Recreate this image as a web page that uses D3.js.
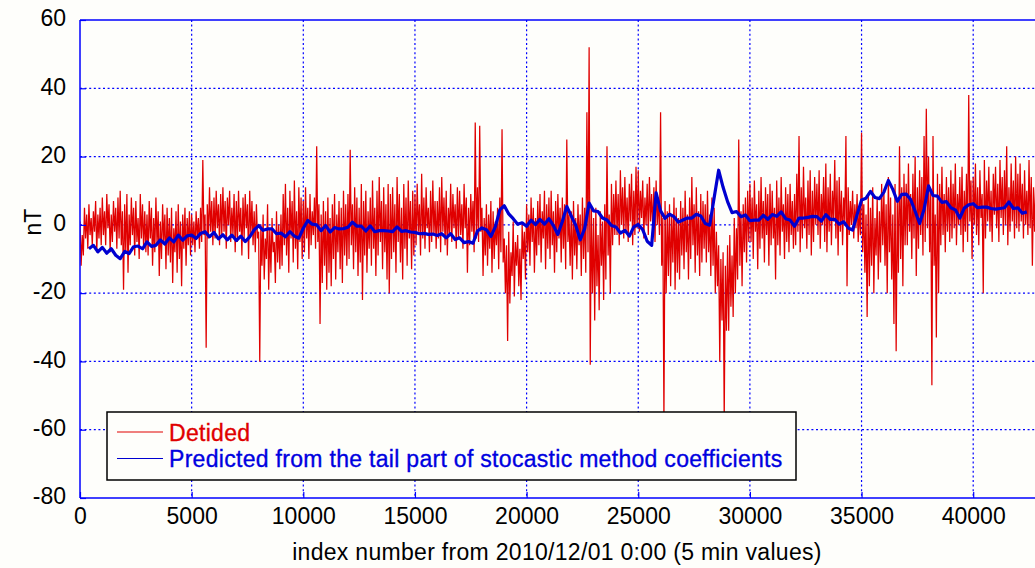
<!DOCTYPE html>
<html>
<head>
<meta charset="utf-8">
<script src="https://cdn.jsdelivr.net/npm/d3@7"></script>
<style>
  html, body { margin: 0; padding: 0; background: #fefefb; }
  svg { display: block; }
  text { font-family: "Liberation Sans", Arial, sans-serif; }
</style>
</head>
<body>
<svg id="chart" width="1035" height="568"></svg>
<script>
// Detided series, read per 100-sample bin: highest and lowest value in each bin
const redStep = 100;
const redHigh = [
  1, -3, 5, 3, 6, 2, 4, 7, 3, 5,
  8, 4, 9, 6, 3, 7, 5, 8, 10, 4,
  6, 9, 3, 8, 5, 7, 2, 9, 6, 4,
  3, 7, 5, 2, 8, 4, 1, 6, 3, 5,
  2, 5, -1, 4, 6, 1, 3, 5, 2, 4,
  3, 1, 4, 2, 5, 19, 3, 6, 11, 7,
  8, 10, 6, 9, 11, 7, 8, 10, 5, 9,
  7, 10, 5, 8, 9, 6, 10, 7, 4, 6,
  -2, 0, 3, -4, 6, -1, 2, -5, 4, 0,
  3, 9, 12, 5, 10, 7, 13, 4, 11, 8,
  7, 11, 5, 9, 4, 8, 23, 6, 3, 7,
  4, 8, 2, 6, 9, 3, 7, 5, 10, 6,
  9, 22, 6, 11, 8, 5, 12, 7, 10, 4,
  8, 13, 5, 10, 14, 7, 11, 6, 12, 9,
  11, 6, 14, 9, 5, 12, 8, 13, 7, 10,
  9, 12, 6, 15, 8, 11, 5, 10, 13, 7,
  7, 11, 14, 8, 10, 5, 12, 9, 6, 11,
  10, 6, 12, 8, 5, 9, 7, 30, 11, 29,
  5, 2, 6, 3, 7, 4, 1, 5, 8, 28,
  -4, -6, -2, -8, 1, -5, -3, -7, 0, -2,
  6, 3, 8, 5, 2, 7, 9, 4, 10, 6,
  8, 10, 4, 7, 9, 5, 8, 6, 25, 3,
  4, 7, 2, 6, 3, 8, 5, 33, 52, 5,
  2, 5, -3, 4, 1, 6, 23, 3, 12, 9,
  13, 9, 16, 11, 14, 8, 12, 15, 10, 17,
  16, 10, 13, 8, 12, 14, 9, 11, 13, 8,
  33, 2, 7, 4, 6, 3, 8, 5, 2, 7,
  5, 10, 3, 8, 14, 6, 11, 4, 9, 7,
  6, 10, 3, 8, 5, -2, -6, -10, -8, -12,
  -6, -3, -9, 2, -1, 25, 4, 6, 8, 10,
  12, 8, 13, 6, 10, 14, 7, 11, 9, 12,
  10, 5, 13, 8, 14, 6, 11, 9, 12, 7,
  9, 15, 26, 11, 17, 8, 13, 16, 10, 14,
  12, 16, 9, 14, 18, 11, 15, 10, 19, 13,
  14, 10, 8, 26, 11, 7, 10, 6, 9, 5,
  27, 6, 3, 9, 5, 11, 2, 8, 4, 12,
  10, 6, 14, 8, 3, 12, 7, 23, 11, 15,
  12, 18, 9, 15, 20, 11, 16, 14, 26, 34,
  20, 10, 26, 3, 15, 12, 17, 9, 14, 11,
  16, 12, 18, 9, 14, 17, 10, 15, 38, 13,
  14, 18, 11, 16, 9, 19, 13, 17, 10, 15,
  17, 12, 19, 14, 16, 23, 11, 18, 13, 20,
  15, 18, 12, 16, 10, 19, 14, 11, 13, 12
];
const redLow = [
  -12, -9, -4, -7, -3, -6, -2, -8, -4, -6,
  -3, -6, -1, -8, -5, -2, -7, -4, -6, -19,
  -8, -14, -6, -3, -9, -5, -10, -4, -7, -8,
  -9, -4, -12, -8, -6, -15, -10, -5, -13, -9,
  -11, -17, -8, -14, -10, -18, -7, -12, -6, -9,
  -6, -8, -4, -7, -5, -3, -36, -4, -2, -6,
  -4, -1, -6, -3, -2, -7, 0, -5, -3, -8,
  -5, -2, -9, -4, -1, -10, -3, -6, -8, -4,
  -40, -12, -16, -10, -19, -14, -8, -17, -11, -13,
  -12, -6, -9, -14, -4, -11, -7, -13, -5, -10,
  -8, -4, -10, -6, -3, -7, -5, -29, -17, -12,
  -19, -14, -18, -10, -16, -8, -13, -17, -9, -12,
  -10, -6, -13, -8, -15, -11, -22, -9, -14, -7,
  -12, -7, -15, -9, -5, -13, -8, -16, -20, -10,
  -8, -14, -5, -11, -16, -7, -12, -4, -13, -9,
  -6, -2, -9, -4, -7, -1, -8, -5, -3, -7,
  -4, -8, -2, -6, -9, -3, -5, -1, -7, -4,
  -3, -7, -1, -14, -6, -2, -8, -4, -5, -2,
  -15, -9, -12, -7, -14, -10, -6, -13, -8, -11,
  -20, -34, -23, -15, -21, -12, -18, -22, -10, -16,
  -8, -12, -5, -14, -9, -6, -11, -4, -13, -7,
  -10, -6, -14, -8, -4, -11, -7, -13, -5, -12,
  -16, -9, -13, -6, -15, -10, -14, -8, -41, -20,
  -28, -18, -25, -12, -22, -16, -9, -20, -6, -3,
  -3, -6, 0, -4, -2, -5, 1, -6, -3, -1,
  -2, 2, -4, 0, -3, 1, -1, -5, 0, -3,
  -12, -57, -20, -15, -18, -11, -19, -14, -16, -9,
  -13, -8, -16, -10, -6, -14, -9, -15, -11, -7,
  -11, -8, -15, -12, -20, -18, -40, -28, -57, -31,
  -31, -24, -27, -20, -16, -12, -18, -8, -11, -5,
  -5, -10, -2, -13, -7, -4, -11, -3, -12, -6,
  -4, -16, -6, -9, -2, -10, -5, -8, -3, -7,
  -6, -2, -8, -4, -1, -7, -3, -9, -5, 0,
  -3, -7, 0, -5, -8, -2, -6, 1, -4, -9,
  -2, -6, 1, -18, -3, 0, -4, -1, -5, -3,
  -8, -14, -27, -18, -12, -20, -9, -16, -11, -6,
  -12, -20, -8, -16, -29, -37, -14, -10, -18, -6,
  -6, -2, -10, -4, -15, -7, -3, -9, -5, -1,
  -8, -47, -12, -33, -20, -6, -3, -8, -2, -5,
  -4, -1, -6, 0, -3, -8, -2, -5, 1, -10,
  0, -3, -6, 2, -20, -4, 1, -2, -5, 3,
  -1, -5, 2, -3, 0, -6, -2, 1, -4, -1,
  -2, 1, -4, 0, -3, -1, -12, -2, 0, -3
];

// Predicted series: one value every 200 samples, starting at index 400
const blueStart = 400;
const blueStep = 200;
const blueValues = [
  -7, -6.0, -7.9, -6.6, -8.3, -7.0, -8.9, -9.9, -7.8, -8.4,
  -6.4, -6.2, -7.0, -5.0, -6.3, -6.0, -4.4, -5.6, -3.8, -5.0,
  -3.0, -4.5, -3.2, -3.0, -4.0, -2.5, -2.0, -3.5, -2.2, -4.1,
  -2.9, -4.4, -3.0, -4.6, -3.3, -4.9, -3.5, -1.5, -0.2, -1.6,
  -1.2, -1.2, -2.6, -2.4, -3.5, -2.0, -3.3, -3.9, -1.0, 1.3,
  0.2, 0.0, -1.7, -0.2, -2.1, -0.8, -1.2, -1.1, -0.7, 0.8,
  -0.4, -0.4, -1.8, -0.3, -2.0, -1.7, -1.7, -1.8, -2.0, -0.6,
  -1.9, -1.7, -2.1, -2.2, -2.6, -2.5, -2.8, -2.7, -3.1, -2.6,
  -3.8, -2.6, -4.3, -3.8, -5.2, -4.9, -5.4, -1.8, -0.9, -1.4,
  -3.4, -0.6, 4.4, 5.6, 3.2, 1.8, 0.2, 0.6, -0.4, 1.4,
  0.1, 1.6, 0.2, 1.8, -0.2, -2.8, 1.0, 5.4, 2.6, -0.1,
  -4.4, -1.1, 6.4, 4.1, 3.9, 2.0, 1.4, -0.2, -0.6, -2.4,
  -1.6, -3.3, -0.6, 0.1, -1.4, -4.8, -6.0, 9.4, 4.1, 1.9,
  3.1, 2.4, 0.8, 1.4, 2.0, 2.0, 3.1, 2.6, 0.4, -0.1,
  8, 16, 11, 6.8, 3.6, 3.9, 2.4, 2.9, 1.2, 1.4,
  1.4, 2.8, 1.6, 3.0, 2.5, 3.8, 1.8, 1.4, -0.4, 2.0,
  2.0, 2.2, 2.5, 2.4, 1.1, 3.0, 1.6, 1.6, 0.2, 0.9,
  -0.9, -1.5, 3.0, 7.3, 7.8, 9.8, 8.0, 7.7, 9.6, 13.0,
  10.4, 6.9, 8.9, 9.0, 7.4, 4.0, 0.4, 4.6, 11.4, 8.6,
  8.4, 6.6, 6.8, 5.0, 4.4, 2.0, 4.9, 5.9, 6.2, 5.0,
  5.2, 5.2, 4.8, 4.6, 4.8, 5.0, 6.7, 4.8, 5.0, 3.4,
  3.8
];

const xTicks = [0, 5000, 10000, 15000, 20000, 25000, 30000, 35000, 40000];
const yTicks = [-80, -60, -40, -20, 0, 20, 40, 60];

const seriesNames = ['Detided', 'Predicted from the tail part of stocastic method coefficients'];
const seriesColors = ['#e00000', '#0000d0'];
const textColors = ['#e00000', '#0000e0'];

const xLabel = 'index number from 2010/12/01 0:00 (5 min values)';
const yLabel = 'nT';

// each bin is drawn as its high then its low
const redData = redHigh.flatMap((hi, i) => [
  { idx: i * redStep, value: hi },
  { idx: i * redStep + redStep / 2, value: redLow[i] }
]);
const blueData = blueValues.map((v, i) => ({ idx: blueStart + i * blueStep, value: v }));

const svg = d3.select('#chart');
const W = 1035, H = 568;
const mLeft = 80, mTop = 20, mBottom = 498;

// the plot runs off the right edge of the picture
const x = d3.scaleLinear().domain([0, 45000]).range([mLeft, mLeft + 45 * 22.33]);
const y = d3.scaleLinear().domain([-80, 60]).range([mBottom, mTop]);

const axisColor = '#0000ff';
const fontSize = '23px';

svg.append('clipPath').attr('id', 'plot-clip')
  .append('rect')
  .attr('x', mLeft).attr('y', mTop)
  .attr('width', W - mLeft).attr('height', mBottom - mTop);

// grid
const grid = svg.append('g').attr('class', 'grid');
grid.selectAll('line.gx').data(xTicks.filter(d => d > 0)).enter().append('line')
  .attr('x1', d => x(d)).attr('x2', d => x(d))
  .attr('y1', mTop).attr('y2', mBottom)
  .attr('stroke', axisColor).attr('stroke-width', 1.2)
  .attr('stroke-dasharray', '2,2.6');
grid.selectAll('line.gy').data(yTicks.filter(d => d > -80 && d < 60)).enter().append('line')
  .attr('x1', mLeft).attr('x2', W)
  .attr('y1', d => y(d)).attr('y2', d => y(d))
  .attr('stroke', axisColor).attr('stroke-width', 1.2)
  .attr('stroke-dasharray', '2,2.6');

// lines
const line = d3.line().x(d => x(d.idx)).y(d => y(d.value));
const plot = svg.append('g').attr('clip-path', 'url(#plot-clip)');
plot.append('path').datum(redData)
  .attr('d', line).attr('fill', 'none')
  .attr('stroke', seriesColors[0]).attr('stroke-width', 1.25)
  .attr('stroke-linejoin', 'bevel');
plot.append('path').datum(blueData)
  .attr('d', line).attr('fill', 'none')
  .attr('stroke', seriesColors[1]).attr('stroke-width', 3.2)
  .attr('stroke-linejoin', 'round');

// axes
const xAxis = svg.append('g')
  .attr('transform', 'translate(0,' + mBottom + ')')
  .call(d3.axisBottom(x).tickValues(xTicks).tickSize(-6).tickPadding(10).tickFormat(d => String(d)));
const yAxis = svg.append('g')
  .attr('transform', 'translate(' + mLeft + ',0)')
  .call(d3.axisLeft(y).tickValues(yTicks).tickSize(-6).tickPadding(14).tickFormat(d => String(d)));
[xAxis, yAxis].forEach(a => {
  a.select('.domain').remove();
  a.selectAll('line').attr('stroke', axisColor).attr('stroke-width', 1.2);
  a.selectAll('text')
    .style('fill', '#000')
    .style('font-family', '"Liberation Sans", Arial, sans-serif')
    .style('font-size', fontSize);
});
yAxis.selectAll('text').attr('dy', '0.25em');

// frame lines
svg.append('line').attr('x1', mLeft).attr('x2', W).attr('y1', mBottom).attr('y2', mBottom)
  .attr('stroke', axisColor).attr('stroke-width', 1.5);
svg.append('line').attr('x1', mLeft).attr('x2', W).attr('y1', mTop).attr('y2', mTop)
  .attr('stroke', axisColor).attr('stroke-width', 1.5);
svg.append('line').attr('x1', mLeft).attr('x2', mLeft).attr('y1', mTop).attr('y2', mBottom)
  .attr('stroke', axisColor).attr('stroke-width', 1.5);

// axis titles
svg.append('text')
  .attr('x', 557).attr('y', 560)
  .attr('text-anchor', 'middle')
  .style('fill', '#000')
  .style('font-size', fontSize).style('letter-spacing', '0.3px')
  .text(xLabel);
svg.append('text')
  .attr('transform', 'translate(41,222) rotate(-90)')
  .attr('text-anchor', 'middle')
  .style('fill', '#000')
  .style('font-size', fontSize)
  .text(yLabel);

// legend
const legend = svg.append('g').attr('transform', 'translate(107,412)');
legend.append('rect')
  .attr('width', 689).attr('height', 68)
  .attr('fill', '#fefefb').attr('stroke', '#000').attr('stroke-width', 1.5);
seriesNames.forEach((name, i) => {
  const cy = 20 + i * 26.5;
  legend.append('line')
    .attr('x1', 10).attr('x2', 56).attr('y1', cy).attr('y2', cy)
    .attr('stroke', seriesColors[i]).attr('stroke-width', 1.2);
  legend.append('text')
    .attr('x', 62).attr('y', 29 + i * 26)
    .style('font-size', fontSize).style('letter-spacing', '0.3px')
    .style('fill', textColors[i])
    .style('stroke', textColors[i]).style('stroke-width', 0.35)
    .text(name);
});
</script>
</body>
</html>
